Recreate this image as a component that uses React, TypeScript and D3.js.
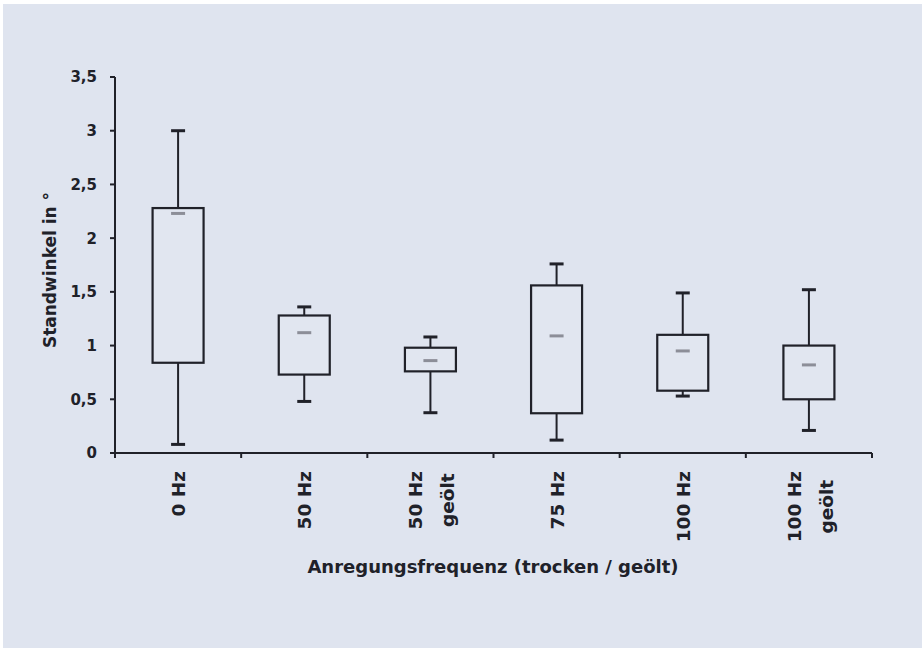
import React, { useEffect, useRef } from "react";
import * as d3 from "d3";

const categories = ["0 Hz", "50 Hz", "50 Hz|geölt", "75 Hz", "100 Hz", "100 Hz|geölt"];
const whiskerLow = [0.08, 0.48, 0.375, 0.12, 0.53, 0.21];
const q1 = [0.84, 0.73, 0.76, 0.37, 0.58, 0.5];
const median = [2.23, 1.12, 0.86, 1.09, 0.95, 0.82];
const q3 = [2.28, 1.28, 0.98, 1.56, 1.1, 1.0];
const whiskerHigh = [3.0, 1.36, 1.08, 1.76, 1.49, 1.52];
const yTicks = [0, 0.5, 1, 1.5, 2, 2.5, 3, 3.5];
const yTitle = "Standwinkel in °";
const xTitle = "Anregungsfrequenz (trocken / geölt)";

const W = 922;
const H = 648;
const FONT = "'DejaVu Sans', sans-serif";
const INK = "#202129";

export default function App() {
  const ref = useRef<SVGSVGElement | null>(null);

  useEffect(() => {
    const svg = d3.select(ref.current);
    svg.selectAll("*").remove();

    svg.append("rect").attr("x", 0).attr("y", 0).attr("width", W).attr("height", H).attr("fill", "#ffffff");
    svg.append("rect").attr("x", 3).attr("y", 4).attr("width", W - 3).attr("height", H - 4).attr("fill", "#dfe4ef");

    const y = d3.scaleLinear().domain([0, 3.5]).range([453, 77]);
    const x = d3.scaleBand<string>().domain(categories).range([115, 872]).padding(0);
    const bw = 51;
    const cap = 14;

    // axes
    const g = svg.append("g");
    g.append("line").attr("x1", 115).attr("x2", 115).attr("y1", y(3.5)).attr("y2", y(0))
      .attr("stroke", INK).attr("stroke-width", 2);
    g.append("line").attr("x1", 115).attr("x2", 872).attr("y1", y(0)).attr("y2", y(0))
      .attr("stroke", INK).attr("stroke-width", 2);

    yTicks.forEach((t) => {
      g.append("line").attr("x1", 110).attr("x2", 115).attr("y1", y(t)).attr("y2", y(t))
        .attr("stroke", INK).attr("stroke-width", 2);
      g.append("text").attr("x", 97).attr("y", y(t)).attr("dy", "0.36em")
        .attr("text-anchor", "end").attr("font-family", FONT).attr("font-weight", "bold")
        .attr("font-size", 15).attr("fill", INK).text(String(t).replace(".", ","));
    });

    const xTickPos = [115, ...categories.map((c) => (x(c) as number) + x.bandwidth())];
    xTickPos.forEach((p) => {
      g.append("line").attr("x1", p).attr("x2", p).attr("y1", y(0)).attr("y2", y(0) + 5)
        .attr("stroke", INK).attr("stroke-width", 2);
    });

    // x labels
    categories.forEach((c) => {
      const cx = (x(c) as number) + x.bandwidth() / 2;
      const lines = c.split("|");
      const top = 471;
      if (lines.length === 1) {
        g.append("text").attr("transform", `translate(${cx + 7},${top}) rotate(-90)`)
          .attr("text-anchor", "end").attr("font-family", FONT).attr("font-weight", "bold")
          .attr("font-size", 18.5).attr("fill", INK).text(lines[0]);
      } else {
        const t1 = g.append("text").attr("transform", `translate(${cx - 8},${top}) rotate(-90)`)
          .attr("text-anchor", "end").attr("font-family", FONT).attr("font-weight", "bold")
          .attr("font-size", 18.5).attr("fill", INK).text(lines[0]);
        const w1 = (t1.node() as SVGTextElement).getComputedTextLength();
        g.append("text").attr("transform", `translate(${cx + 24},${top + w1 / 2}) rotate(-90)`)
          .attr("text-anchor", "middle").attr("font-family", FONT).attr("font-weight", "bold")
          .attr("font-size", 18.5).attr("fill", INK).text(lines[1]);
      }
    });

    // titles
    g.append("text").attr("transform", `translate(56,270) rotate(-90)`)
      .attr("text-anchor", "middle").attr("font-family", FONT).attr("font-weight", "bold")
      .attr("font-size", 17).attr("fill", INK).text(yTitle);
    g.append("text").attr("x", 493).attr("y", 573)
      .attr("text-anchor", "middle").attr("font-family", FONT).attr("font-weight", "bold")
      .attr("font-size", 18).attr("fill", INK).text(xTitle);

    // boxes
    categories.forEach((c, i) => {
      const cx = (x(c) as number) + x.bandwidth() / 2;
      const b = svg.append("g");
      b.append("line").attr("x1", cx).attr("x2", cx).attr("y1", y(whiskerHigh[i])).attr("y2", y(q3[i]))
        .attr("stroke", INK).attr("stroke-width", 2);
      b.append("line").attr("x1", cx).attr("x2", cx).attr("y1", y(q1[i])).attr("y2", y(whiskerLow[i]))
        .attr("stroke", INK).attr("stroke-width", 2);
      b.append("line").attr("x1", cx - cap / 2).attr("x2", cx + cap / 2)
        .attr("y1", y(whiskerHigh[i])).attr("y2", y(whiskerHigh[i])).attr("stroke", INK).attr("stroke-width", 3);
      b.append("line").attr("x1", cx - cap / 2).attr("x2", cx + cap / 2)
        .attr("y1", y(whiskerLow[i])).attr("y2", y(whiskerLow[i])).attr("stroke", INK).attr("stroke-width", 3);
      b.append("rect").attr("x", cx - bw / 2).attr("y", y(q3[i])).attr("width", bw)
        .attr("height", y(q1[i]) - y(q3[i])).attr("fill", "#e1e6f0").attr("stroke", INK).attr("stroke-width", 2.2);
      b.append("line").attr("x1", cx - 7).attr("x2", cx + 7)
        .attr("y1", y(median[i])).attr("y2", y(median[i])).attr("stroke", "#8c8e98").attr("stroke-width", 3);
    });
  }, []);

  return (
    <svg ref={ref} width={W} height={H} style={{ position: "absolute", left: 0, top: 0, display: "block" }} />
  );
}
